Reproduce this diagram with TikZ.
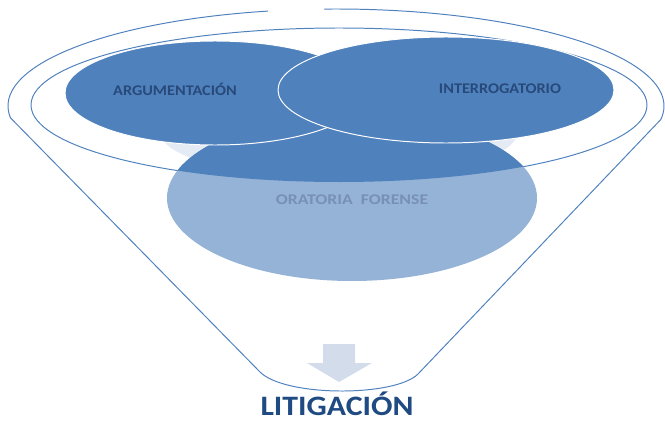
\documentclass[tikz,border=0pt]{standalone}
\usepackage{fontspec}
\setmainfont{Carlito}
\usetikzlibrary{calc}
\definecolor{funnelblue}{HTML}{4F81BD}
\definecolor{lightblue}{HTML}{95B3D7}
\definecolor{paleblue}{HTML}{E5EBF4}
\definecolor{arrowblue}{HTML}{D2DCEB}
\definecolor{navytext}{HTML}{284A7A}
\definecolor{greytext}{HTML}{7890B4}
\definecolor{titleblue}{HTML}{1F4A82}
\begin{document}
\begin{tikzpicture}[line cap=round,line join=round,x=.025cm,y=-.025cm,
    rim/.style={draw=funnelblue,line width=.7pt},
    bubble/.style={fill=funnelblue,draw=white,line width=.7pt},
    tag/.style={font=\bfseries\fontsize{10.5}{13}\selectfont\addfontfeature{FakeStretch=1.1},text=navytext,inner sep=0pt,anchor=base}]
        \useasboundingbox (0,0) rectangle (665,421);
        \draw [rim] (267.8,11.1) arc [start angle=-102, end angle=-187, x radius=328, y radius=97]
            -- (260,372) .. controls (285,397) and (395,397) .. (418,374)
            -- (660.8,119.5) arc [start angle=8, end angle=-92, x radius=328, y radius=97];
        \draw [rim] (339,105) ellipse [x radius=308, y radius=77];
        \fill [paleblue] (339,133) ellipse [x radius=178, y radius=45];
        \fill [lightblue] (352,198) ellipse [x radius=185, y radius=83];
        \begin{scope}
            \clip (339,105) ellipse [x radius=308, y radius=77];
            \fill [funnelblue] (352,198) ellipse [x radius=185, y radius=83];
        \end{scope}
        \filldraw [bubble] (215,93) ellipse [x radius=150, y radius=52];
        \filldraw [bubble] (446,90) ellipse [x radius=168, y radius=53];
        \fill [arrowblue] (323,344) -- (355,344) -- (355,363) -- (372,363) -- (339,382) -- (307,363) -- (323,363) -- cycle;
        \node [tag] (argumentacion) at (175,95) {ARGUMENTACIÓN};
        \node [tag] (interrogatorio) at (500,93) {INTERROGATORIO};
        \node [tag,text=greytext,font=\bfseries\fontsize{10.5}{13}\selectfont\addfontfeature{FakeStretch=1.2}] (oratoria) at (352,204) {ORATORIA\ \ FORENSE};
        \node [tag,font=\bfseries\fontsize{20}{24}\selectfont\addfontfeature{FakeStretch=1.13},text=titleblue] (litigacion) at (337,415) {LITIGACIÓN};
\end{tikzpicture}
\end{document}
